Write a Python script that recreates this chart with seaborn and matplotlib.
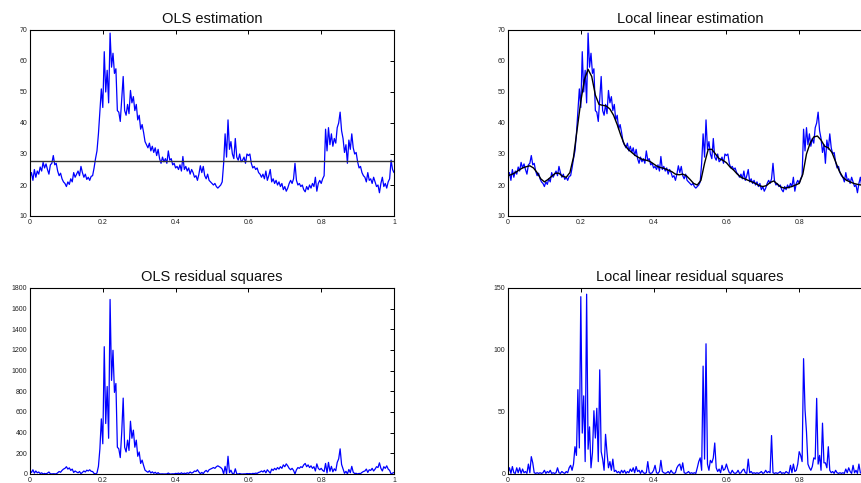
import numpy as np
import pandas as pd
import matplotlib
matplotlib.use("Agg")
import matplotlib.pyplot as plt
from matplotlib.ticker import FuncFormatter
import seaborn as sns

# ---------------- data ----------------
t_step = 0.004
series = [
    22.5, 24.0, 21.5, 25.0, 22.5, 24.5, 23.5, 25.8, 24.5, 27.3,
    25.5, 26.8, 25.0, 23.5, 26.5, 27.0, 29.5, 26.5, 27.0, 24.5,
    23.0, 23.8, 22.0, 21.0, 20.5, 19.5, 21.0, 20.2, 22.0, 21.0,
    24.0, 22.5, 23.5, 24.5, 23.0, 26.0, 24.0, 22.5, 23.5, 21.8,
    22.5, 21.5, 22.8, 23.0, 25.5, 28.5, 31.0, 36.5, 43.5, 51.0,
    45.0, 63.0, 50.0, 57.0, 46.5, 69.0, 58.0, 62.5, 56.0, 57.5,
    44.0, 43.5, 40.5, 48.0, 55.0, 44.0, 42.5, 46.0, 43.0, 50.5,
    46.5, 48.5, 44.0, 46.0, 41.0, 42.5, 38.0, 39.5, 37.0, 34.0,
    33.0, 32.0, 33.5, 31.0, 32.5, 30.5, 32.0, 29.5, 31.5, 28.5,
    27.0, 29.0, 27.5, 28.5, 27.0, 31.0, 28.0, 28.5, 26.5, 27.0,
    25.5, 26.0, 25.0, 26.5, 24.5, 29.2, 25.0, 26.0, 24.5, 25.5,
    23.5, 25.0, 24.0, 22.5, 23.0, 21.5, 23.5, 26.2, 24.0, 26.0,
    23.0, 22.0, 23.5, 21.5, 21.0, 20.5, 20.0, 20.5, 19.5, 19.0,
    19.5, 20.0, 21.0, 27.0, 36.5, 29.0, 41.0, 31.5, 34.0, 30.0,
    28.5, 35.0, 29.0, 28.0, 30.0, 27.5, 28.0, 29.0, 27.0, 30.0,
    29.5, 30.0, 27.0, 25.5, 26.0, 25.0, 25.5, 24.0, 23.5, 22.5,
    23.5, 22.0, 24.5, 21.5, 23.0, 25.0, 21.0, 22.0, 20.5, 21.5,
    20.0, 21.0, 19.5, 20.5, 18.5, 19.5, 18.0, 19.0, 20.5, 21.5,
    20.5, 22.0, 27.0, 21.5, 20.0, 20.5, 19.5, 20.0, 18.5, 17.8,
    19.5, 18.5, 20.0, 19.0, 20.5, 19.5, 22.5, 18.0, 20.5, 21.5,
    20.5, 22.0, 23.0, 38.0, 31.0, 38.5, 33.0, 36.5, 32.5, 35.0,
    33.5, 38.5, 40.0, 43.5, 37.5, 35.0, 30.5, 33.0, 27.0, 34.5,
    31.5, 36.5, 32.0, 30.0, 30.5, 27.5, 25.5, 26.0, 24.0, 23.0,
    22.5, 21.0, 24.0, 21.5, 22.0, 20.5, 22.5, 21.0, 19.5, 20.0,
    17.5, 20.5, 22.5, 19.5, 20.5, 19.0, 21.0, 22.0, 28.0, 25.0,
    24.0,
]
ols_level = 27.9

smooth_step = 0.01
local_linear = [
    23.0, 23.4, 24.0, 24.8, 25.5, 25.9, 26.2, 25.5, 24.0, 22.0,
    21.0, 21.8, 22.8, 23.8, 23.8, 22.8, 22.5, 24.0, 29.0, 38.0,
    47.0, 54.0, 57.3, 55.0, 49.0, 46.0, 45.7, 45.5, 44.5, 42.5,
    39.5, 36.0, 33.0, 31.5, 30.5, 29.5, 28.8, 28.2, 28.0, 27.6,
    26.8, 26.0, 25.6, 25.3, 24.8, 24.3, 23.5, 23.3, 23.5, 23.0,
    21.8, 20.5, 20.0, 21.5, 27.0, 31.5, 31.5, 30.0, 28.5, 28.0,
    27.2, 25.8, 24.8, 23.5, 22.5, 22.0, 21.5, 21.0, 20.5, 19.8,
    19.5, 19.8, 20.8, 21.3, 20.3, 19.3, 19.0, 19.2, 19.5, 20.0,
    20.5, 23.5, 30.0, 33.5, 35.5, 35.8, 34.5, 32.5, 32.0, 30.5,
    27.5, 24.5, 22.5, 21.5, 21.0, 20.5, 20.2, 20.0, 20.3, 21.0,
    21.5,
]

ll_resid_sq = [
    1, 5, 0.5, 6, 1, 0.5, 5, 1, 5, 0.5,
    4, 1, 2, 0.5, 8, 1, 14, 9, 1, 0.5,
    1, 0.5, 1, 0.5, 1, 3, 0.5, 2, 1, 3,
    0.5, 1, 0.5, 1, 5, 1, 0.5, 2, 1, 0.5,
    2, 1, 5, 7, 3, 8, 22, 15, 68, 21,
    143, 33, 63, 10, 145, 20, 38, 5, 17, 51,
    29, 53, 10, 84, 18, 12, 3, 32, 17, 5,
    10, 3, 12, 2, 3, 1, 2, 0.5, 3, 1,
    3, 0.5, 2, 1, 4, 2, 5, 1, 6, 2,
    3, 0.5, 3, 1, 0.5, 1, 10, 1, 0.5, 1,
    3, 7, 1, 0.5, 2, 11, 2, 1, 0.5, 1,
    2, 0.5, 3, 1, 0.5, 1, 5, 7, 8, 3,
    9, 1, 0.5, 1, 2, 0.5, 1, 0.5, 1, 0.5,
    5, 10, 13, 3, 87, 12, 105, 8, 3, 11,
    9, 13, 25, 5, 2, 4, 1, 7, 3, 4,
    8, 4, 1, 0.5, 3, 1, 0.5, 1, 3, 0.5,
    1, 3, 4, 1, 0.5, 12, 1, 2, 0.5, 1,
    0.5, 1, 0.5, 1, 2, 0.5, 1, 3, 1, 2,
    1, 31, 1, 0.5, 1, 0.5, 1, 2, 0.5, 1,
    0.5, 2, 1, 0.5, 7, 1, 8, 2, 3, 8,
    18, 15, 10, 93, 52, 34, 8, 5, 3, 6,
    13, 12, 61, 8, 15, 3, 41, 9, 9, 5,
    22, 3, 1, 2, 0.5, 3, 1, 0.5, 1, 0.5,
    1, 0.5, 4, 1, 5, 2, 0.5, 7, 1, 3,
    0.5, 8, 1, 0.5, 6, 1, 4, 0.5, 8, 2,
    3,
]

titles = ["OLS estimation", "Local linear estimation",
          "OLS residual squares", "Local linear residual squares"]
xticks = [0, 0.2, 0.4, 0.6, 0.8, 1]
yticks_est = [10, 20, 30, 40, 50, 60, 70]
yticks_ols_res = list(range(0, 1801, 200))
yticks_ll_res = [0, 50, 100, 150]

# ---------------- frames ----------------
t = np.arange(len(series)) * t_step
y = np.array(series)
df = pd.DataFrame({"t": t, "y": y,
                   "ols_res": (y - ols_level) ** 2,
                   "ll_res": np.array(ll_resid_sq)})
df_s = pd.DataFrame({"t": np.arange(len(local_linear)) * smooth_step,
                     "fit": local_linear})
df_ols = pd.DataFrame({"t": [0.0, 1.0], "fit": [ols_level, ols_level]})

# ---------------- style ----------------
sns.set_theme(style="white")
plt.rcParams["font.family"] = ["Liberation Sans", "DejaVu Sans"]
plt.rcParams["axes.linewidth"] = 0.8
plt.rcParams["axes.edgecolor"] = "black"

W, H = 862, 483
fig = plt.figure(figsize=(W / 100, H / 100), dpi=100)
fig.patch.set_facecolor("white")

def frac(x0, y0, x1, y1):
    return [x0 / W, 1 - y1 / H, (x1 - x0) / W, (y1 - y0) / H]

ax_tl = fig.add_axes(frac(30, 30, 394, 216))
ax_tr = fig.add_axes(frac(508, 30, 872, 216))
ax_bl = fig.add_axes(frac(30, 288, 394, 474))
ax_br = fig.add_axes(frac(508, 288, 872, 474))

blue = "#0000ff"
lw = 0.9

sns.lineplot(data=df, x="t", y="y", ax=ax_tl, color=blue, linewidth=lw,
             estimator=None, sort=False)
sns.lineplot(data=df_ols, x="t", y="fit", ax=ax_tl, color="#333333",
             linewidth=1.0, estimator=None)

sns.lineplot(data=df, x="t", y="y", ax=ax_tr, color=blue, linewidth=lw,
             estimator=None, sort=False)
sns.lineplot(data=df_s, x="t", y="fit", ax=ax_tr, color="black",
             linewidth=1.0, estimator=None)

sns.lineplot(data=df, x="t", y="ols_res", ax=ax_bl, color=blue, linewidth=lw,
             estimator=None, sort=False)
sns.lineplot(data=df, x="t", y="ll_res", ax=ax_br, color=blue, linewidth=lw,
             estimator=None, sort=False)

fmt = FuncFormatter(lambda v, p: "%g" % round(v, 3))
# right-hand panels run past the figure edge in the reference, so their
# last x label ("1") is not visible there
fmt_cut = FuncFormatter(lambda v, p: "" if v > 0.99 else "%g" % round(v, 3))
for ax, title, yt, xf in [(ax_tl, titles[0], yticks_est, fmt),
                          (ax_tr, titles[1], yticks_est, fmt_cut),
                          (ax_bl, titles[2], yticks_ols_res, fmt),
                          (ax_br, titles[3], yticks_ll_res, fmt_cut)]:
    ax.set_xlim(0, 1)
    ax.set_ylim(yt[0], yt[-1])
    ax.set_xticks(xticks)
    ax.set_yticks(yt)
    ax.xaxis.set_major_formatter(xf)
    ax.yaxis.set_major_formatter(fmt)
    ax.set_xlabel("")
    ax.set_ylabel("")
    ax.set_title(title, fontsize=10.5, pad=5, color="#111111")
    ax.tick_params(direction="in", length=3, width=0.7, labelsize=5,
                   top=True, right=True, colors="black",
                   labelcolor="#222222", pad=2)
    for s in ax.spines.values():
        s.set_visible(True)
        s.set_color("black")
        s.set_linewidth(0.8)

fig.savefig("out.png", dpi=100, facecolor="white")
